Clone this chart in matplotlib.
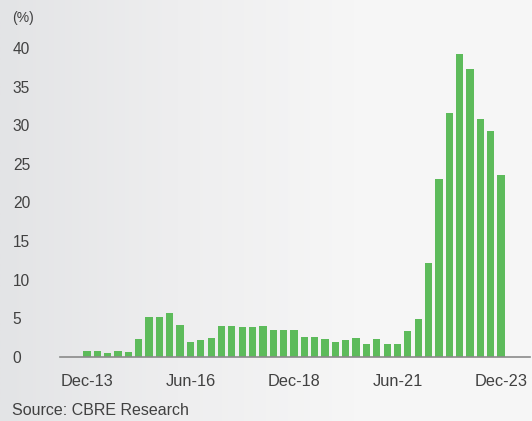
import numpy as np
import matplotlib
matplotlib.use('Agg')
import matplotlib.pyplot as plt
from matplotlib.colors import LinearSegmentedColormap

# quarterly values, Dec-13 .. Dec-23 (%)
quarters = ['Dec-13', 'Mar-14', 'Jun-14', 'Sep-14', 'Dec-14', 'Mar-15', 'Jun-15', 'Sep-15',
            'Dec-15', 'Mar-16', 'Jun-16', 'Sep-16', 'Dec-16', 'Mar-17', 'Jun-17', 'Sep-17',
            'Dec-17', 'Mar-18', 'Jun-18', 'Sep-18', 'Dec-18', 'Mar-19', 'Jun-19', 'Sep-19',
            'Dec-19', 'Mar-20', 'Jun-20', 'Sep-20', 'Dec-20', 'Mar-21', 'Jun-21', 'Sep-21',
            'Dec-21', 'Mar-22', 'Jun-22', 'Sep-22', 'Dec-22', 'Mar-23', 'Jun-23', 'Sep-23',
            'Dec-23']
values = [0.8, 0.8, 0.5, 0.8, 0.6, 2.3, 5.2, 5.2, 5.65, 4.2,
          2.0, 2.25, 2.4, 4.0, 4.0, 3.9, 3.9, 4.0, 3.45, 3.5,
          3.5, 2.6, 2.65, 2.3, 1.9, 2.25, 2.4, 1.65, 2.3, 1.7,
          1.7, 3.35, 4.95, 12.2, 23.1, 31.6, 39.2, 37.3, 30.8, 29.3,
          23.5]
tick_labels = ['Dec-13', 'Jun-16', 'Dec-18', 'Jun-21', 'Dec-23']
y_ticks = [0, 5, 10, 15, 20, 25, 30, 35, 40]

BAR_COLOR = '#5dbb5b'
TEXT_COLOR = '#414141'
FONT = ['Liberation Sans', 'DejaVu Sans']

plt.rcParams['font.family'] = FONT

fig = plt.figure(figsize=(5.32, 4.21), dpi=100)

# soft grey background gradient
bg = fig.add_axes([0, 0, 1, 1], zorder=0)
cmap = LinearSegmentedColormap.from_list('bg', ['#e3e4e6', '#eeeeef', '#f6f6f6', '#f7f7f7'])
bg.imshow(np.linspace(0, 1, 256).reshape(1, -1), aspect='auto', cmap=cmap,
          extent=[0, 1, 0, 1])
bg.axis('off')

ax = fig.add_axes([60 / 532, 64 / 421, 470 / 532, 324.5 / 421], zorder=1)
ax.patch.set_alpha(0)

x = np.arange(len(values))
ax.bar(x, values, width=0.7, color=BAR_COLOR, zorder=2)

ax.set_xlim(-2.6, 42.8)
ax.set_ylim(0, 42)

ax.set_xticks([quarters.index(t) for t in tick_labels])
ax.set_xticklabels(tick_labels)
ax.set_yticks(y_ticks)
ax.set_yticklabels([str(v) for v in y_ticks], ha='left')

ax.tick_params(axis='x', length=0, pad=12.5, labelsize=11.8, labelcolor=TEXT_COLOR)
ax.tick_params(axis='y', length=0, pad=34, labelsize=11.2, labelcolor=TEXT_COLOR)

for side in ['top', 'right', 'left']:
    ax.spines[side].set_visible(False)
ax.spines['bottom'].set_color('#8a8a8a')
ax.spines['bottom'].set_linewidth(1.2)
ax.spines['bottom'].set_zorder(3)

fig.text(12 / 532, 1 - 18 / 421, '(%)', fontsize=10, color=TEXT_COLOR, va='center', ha='left')
fig.text(12 / 532, 6 / 421, 'Source: CBRE Research', fontsize=11.5, color=TEXT_COLOR,
         va='baseline', ha='left')

fig.savefig('out.png', dpi=100)
